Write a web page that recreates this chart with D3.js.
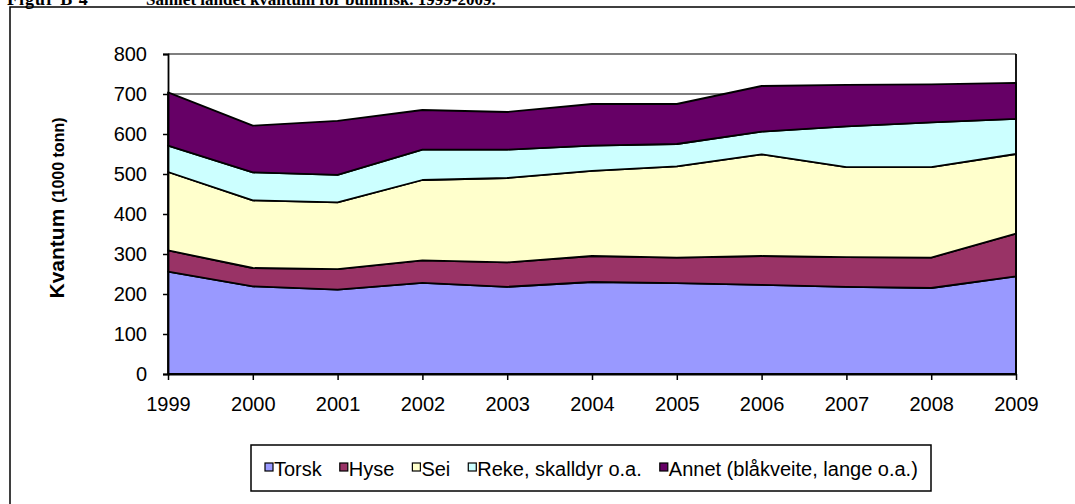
<!DOCTYPE html>
<html>
<head>
<meta charset="utf-8">
<title>Bunnfisk</title>
<script src="https://d3js.org/d3.v7.min.js"></script>
<style>
  body { margin: 0; background: #fff; }
  text { font-family: Arial, "Liberation Sans", sans-serif; }
</style>
</head>
<body>
<script>
// values in 1000 tonn
var years  = [1999, 2000, 2001, 2002, 2003, 2004, 2005, 2006, 2007, 2008, 2009];
var torsk  = [256, 219, 211, 228, 218, 230, 227, 223, 218, 215, 244];
var hyse   = [53, 46, 51, 56, 61, 65, 64, 72, 74, 76, 107];
var sei    = [196, 169, 167, 201, 211, 213, 228, 254, 225, 226, 199];
var reke   = [66, 70, 69, 76, 71, 63, 56, 57, 102, 112, 88];
var annet  = [133, 117, 135, 99, 94, 104, 100, 114, 104, 95, 90];
var seriesNames = ["Torsk", "Hyse", "Sei", "Reke, skalldyr o.a.", "Annet (blåkveite, lange o.a.)"];
var colors = ["#9999FF", "#993366", "#FFFFCC", "#CCFFFF", "#660066"];
var yTicks = [0, 100, 200, 300, 400, 500, 600, 700, 800];

var svg = d3.select("body").append("svg")
  .attr("width", 1075)
  .attr("height", 504);

// title, cut off at the top of the picture
var titleFont = "'Liberation Serif', 'Times New Roman', serif";
svg.append("text")
  .attr("x", 7).attr("y", 5)
  .style("font-family", titleFont)
  .style("font-weight", "bold")
  .style("font-size", "18px")
  .style("letter-spacing", "1px")
  .text("Figur B 4");
svg.append("text")
  .attr("x", 146).attr("y", 5)
  .style("font-family", titleFont)
  .style("font-weight", "bold")
  .style("font-size", "17px")
  .text("Samlet landet kvantum for bunnfisk. 1999-2009.");

// outer frame
svg.append("path")
  .attr("d", "M10,520V7H1090")
  .attr("fill", "none")
  .attr("stroke", "#000")
  .attr("stroke-width", 1.5);

var x = d3.scalePoint().domain(years).range([168, 1016]);
var y = d3.scaleLinear().domain([0, 800]).range([374, 54]);

var rows = years.map(function(yr, i) {
  return { year: yr, s0: torsk[i], s1: hyse[i], s2: sei[i], s3: reke[i], s4: annet[i] };
});
var stack = d3.stack().keys(["s0", "s1", "s2", "s3", "s4"]);
var layers = stack(rows);

// gridlines
svg.append("g").selectAll("line")
  .data(yTicks.slice(1))
  .enter().append("line")
  .attr("x1", 168).attr("x2", 1016)
  .attr("y1", function(d) { return y(d); })
  .attr("y2", function(d) { return y(d); })
  .attr("stroke", "#000")
  .attr("stroke-width", 1.2);

var area = d3.area()
  .x(function(d) { return x(d.data.year); })
  .y0(function(d) { return y(d[0]); })
  .y1(function(d) { return y(d[1]); });

svg.append("g").selectAll("path")
  .data(layers)
  .enter().append("path")
  .attr("d", area)
  .attr("fill", function(d, i) { return colors[i]; })
  .attr("stroke", "#000")
  .attr("stroke-width", 1.8)
  .attr("stroke-linejoin", "round");

// right border of plot
svg.append("line")
  .attr("x1", 1016).attr("x2", 1016)
  .attr("y1", 54).attr("y2", 374)
  .attr("stroke", "#000").attr("stroke-width", 1.8);

// axes
var yAxis = d3.axisLeft(y).tickValues(yTicks).tickSize(5).tickPadding(16);
var gy = svg.append("g").attr("transform", "translate(168,0)").call(yAxis);
gy.select(".domain").attr("stroke-width", 1.8);
gy.selectAll(".tick line").attr("stroke-width", 1.5);
gy.selectAll("text").style("font-size", "20px").attr("fill", "#000");

var xAxis = d3.axisBottom(x).tickSize(6).tickPadding(17).tickSizeOuter(0);
var gx = svg.append("g").attr("transform", "translate(0,374)").call(xAxis);
gx.select(".domain").attr("stroke-width", 1.8);
gx.selectAll(".tick line").attr("stroke-width", 1.5);
gx.selectAll("text").style("font-size", "20px").attr("fill", "#000");

// y axis title
var yt = svg.append("text")
  .attr("transform", "translate(64,208) rotate(-90)")
  .attr("text-anchor", "middle")
  .style("font-weight", "bold");
yt.append("tspan").style("font-size", "21px").text("Kvantum ");
yt.append("tspan").style("font-size", "16px").text("(1000 tonn)");

// legend
svg.append("rect")
  .attr("x", 251).attr("y", 445)
  .attr("width", 680).attr("height", 46)
  .attr("fill", "#fff")
  .attr("stroke", "#000")
  .attr("stroke-width", 1.5);

var lx = 265;
seriesNames.forEach(function(name, i) {
  svg.append("rect")
    .attr("x", lx).attr("y", 463)
    .attr("width", 8).attr("height", 8)
    .attr("fill", colors[i])
    .attr("stroke", "#000")
    .attr("stroke-width", 1.2);
  var t = svg.append("text")
    .attr("x", lx + 9).attr("y", 476)
    .style("font-size", "20px")
    .text(name);
  lx = lx + 9 + t.node().getComputedTextLength() + 18;
});
</script>
</body>
</html>
